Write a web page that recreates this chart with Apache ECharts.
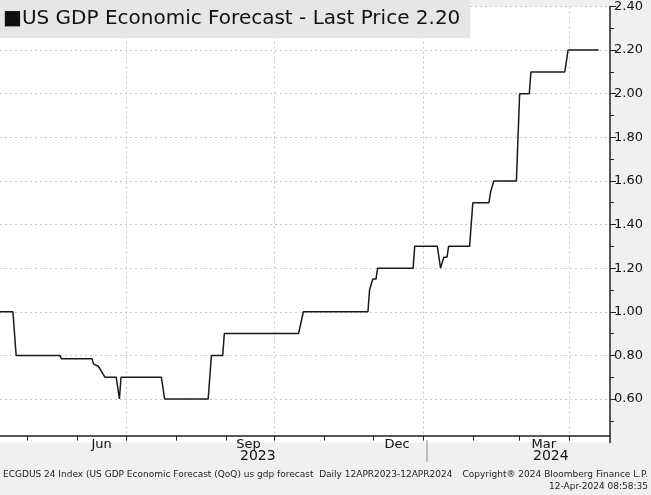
<!DOCTYPE html>
<html><head><meta charset="utf-8">
<script src="https://cdn.jsdelivr.net/npm/echarts@6/dist/echarts.min.js"></script>
<style>html,body{margin:0;padding:0;background:#f0f0f0}#c{width:651px;height:495px}</style>
</head><body><div id="c"></div>
<script>
const dates = ['2023-04-14','2023-04-22','2023-04-24','2023-05-21','2023-05-22','2023-06-10','2023-06-11','2023-06-14','2023-06-18','2023-06-25','2023-06-27','2023-06-28','2023-07-23','2023-07-25','2023-08-21','2023-08-23','2023-08-30','2023-08-31','2023-10-16','2023-10-19','2023-11-28','2023-11-29','2023-12-01','2023-12-03','2023-12-04','2023-12-26','2023-12-27','2024-01-10','2024-01-12','2024-01-14','2024-01-16','2024-01-17','2024-01-30','2024-02-01','2024-02-11','2024-02-12','2024-02-14','2024-02-28','2024-03-01','2024-03-07','2024-03-08','2024-03-29','2024-03-31','2024-04-19'];
const values = [1.00,1.00,0.80,0.80,0.785,0.785,0.76,0.75,0.70,0.70,0.60,0.70,0.70,0.60,0.60,0.80,0.80,0.90,0.90,1.00,1.00,1.10,1.15,1.15,1.20,1.20,1.30,1.30,1.20,1.25,1.25,1.30,1.30,1.50,1.50,1.55,1.60,1.60,2.00,2.00,2.10,2.10,2.20,2.20];
const yTicks = [0.6,0.8,1.0,1.2,1.4,1.6,1.8,2.0,2.2,2.4];
const yMinor = [0.5,0.7,0.9,1.1,1.3,1.5,1.7,1.9,2.1,2.3];
const monthStarts = ['2023-05-01','2023-06-01','2023-07-01','2023-08-01','2023-09-01','2023-10-01','2023-11-01','2023-12-01','2024-01-01','2024-02-01','2024-03-01','2024-04-01'];
const quarterStarts = ['2023-07-01','2023-10-01','2024-01-01','2024-04-01'];
const monthLabelDates = ['2023-06-16','2023-09-15','2023-12-16','2024-03-16'];
const monthLabels = ['Jun','Sep','Dec','Mar'];
const lastPrice = 2.20;

const ts = s => new Date(s + 'T00:00:00Z').getTime();
const xMin = ts('2023-04-14'), xMax = ts('2024-04-26');
const labelTs = monthLabelDates.map(ts);
const font = 'Tahoma, "DejaVu Sans", Verdana, sans-serif';
const chart = echarts.init(document.getElementById('c'));
chart.setOption({
  backgroundColor:'#f0f0f0',
  animation:false,
  title:{text:'\u25A0US GDP Economic Forecast - Last Price 2.20', left:0, top:0,
    backgroundColor:'#e6e6e6', padding:[9,10,9,3],
    textStyle:{fontFamily:font, fontSize:20, fontWeight:'normal', color:'#111'}},
  grid:[{show:true, backgroundColor:'#fff', borderWidth:0, left:0, right:41, top:4, height:438.6}],
  xAxis:[
    {type:'value', min:xMin, max:xMax, offset:-7,
     axisLine:{lineStyle:{color:'#222', width:1.5}},
     axisTick:{customValues:monthStarts.map(ts), length:5, lineStyle:{color:'#222'}},
     axisLabel:{customValues:labelTs, formatter:v=>{const i=labelTs.indexOf(v);return i>=0?monthLabels[i]:'';},
       color:'#111', fontFamily:font, fontSize:13, margin:3},
     splitLine:{show:false}},
    {type:'value', min:xMin, max:xMax, position:'bottom',
     axisLine:{show:false}, axisLabel:{show:false},
     axisTick:{show:false, customValues:quarterStarts.map(ts)},
     splitLine:{show:true, lineStyle:{color:'#c8c8c8', type:[2,3]}}}
  ],
  yAxis:[
    {type:'value', min:0.4, max:2.4, position:'right',
     axisLine:{show:true, lineStyle:{color:'#222', width:1.5}},
     axisTick:{customValues:yTicks, length:6, lineStyle:{color:'#222'}},
     axisLabel:{customValues:yTicks, formatter:v=>v.toFixed(2), color:'#111', fontFamily:font, fontSize:13, margin:4},
     splitLine:{show:true, lineStyle:{color:'#c8c8c8', type:[2,3]}}},
    {type:'value', min:0.4, max:2.4, position:'right',
     axisLine:{show:false}, axisLabel:{show:false}, splitLine:{show:false},
     axisTick:{customValues:yMinor, length:4, lineStyle:{color:'#222'}}}
  ],
  graphic:[
    {type:'text', left:240, top:449, style:{text:'2023', font:'14px '+font, fill:'#111'}},
    {type:'text', left:533, top:449, style:{text:'2024', font:'14px '+font, fill:'#111'}},
    {type:'line', shape:{x1:427,y1:440,x2:427,y2:462}, style:{stroke:'#888', lineWidth:1}},
    {type:'text', left:3, top:470, style:{text:'ECGDUS 24 Index (US GDP Economic Forecast (QoQ) us gdp forecast  Daily 12APR2023-12APR2024', font:'9px '+font, fill:'#222'}},
    {type:'text', right:3, top:470, style:{text:'Copyright\u00AE 2024 Bloomberg Finance L.P.', font:'9px '+font, fill:'#222'}},
    {type:'text', right:3, top:482, style:{text:'12-Apr-2024 08:58:35', font:'9px '+font, fill:'#222'}}
  ],
  series:[{type:'line', xAxisIndex:0, yAxisIndex:0, showSymbol:false,
    data:dates.map((d,i)=>[ts(d), values[i]]),
    lineStyle:{color:'#1a1a1a', width:1.5},
    markLine:{symbol:'none', silent:true, data:[[{coord:[xMax,lastPrice]},{coord:[xMax,lastPrice]}]],
      lineStyle:{opacity:0},
      label:{show:true, position:'end', formatter:lastPrice.toFixed(2), color:'#fff', backgroundColor:'#000',
        padding:[3,4,2,6], fontFamily:font, fontSize:13, distance:2}}
  }]
});
</script></body></html>
